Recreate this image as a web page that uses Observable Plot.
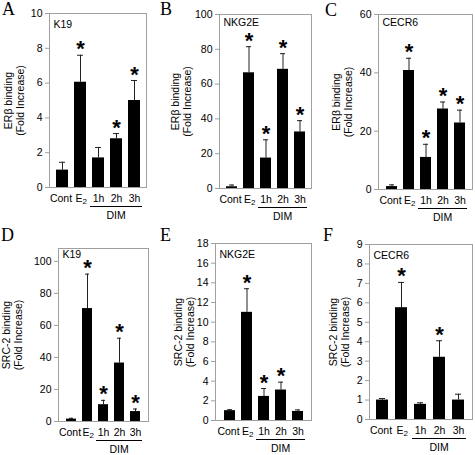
<!DOCTYPE html>
<html><head><meta charset="utf-8">
<script src="https://cdn.jsdelivr.net/npm/d3@7"></script>
<script src="https://cdn.jsdelivr.net/npm/@observablehq/plot@0.6"></script>
<style>
body{margin:0;background:#fff;}
#root{position:relative;width:475px;height:455px;overflow:hidden;font-family:"Liberation Sans",Arial,sans-serif;}
.panel{position:absolute;}
.letter{position:absolute;font-family:"Liberation Serif","Times New Roman",serif;font-size:18px;line-height:18px;color:#000;}
</style></head><body><div id="root"></div>
<script>
// ---- data ----
const categories = ["Cont", "E₂", "1h", "2h", "3h"];
const dimGroup = ["1h", "2h", "3h"];
const dimLabel = "DIM";
const panelLetters = ["A", "B", "C", "D", "E", "F"];
const genes = ["K19", "NKG2E", "CECR6", "K19", "NKG2E", "CECR6"];
const yTitleER = "ERβ binding\n(Fold Increase)";
const yTitleSRC = "SRC-2 binding\n(Fold Increase)";

const meanA = [1.0, 6.05, 1.7, 2.8, 5.0];
const errA  = [1.45, 7.6, 2.3, 3.1, 6.15];
const starA = [false, true, false, true, true];
const ticksA = [0, 2, 4, 6, 8, 10];

const meanB = [1.0, 66.5, 17.5, 68.5, 32.5];
const errB  = [2.0, 81.5, 28, 77.5, 39];
const starB = [false, true, true, true, true];
const ticksB = [0, 20, 40, 60, 80, 100];

const meanC = [1.0, 40.8, 11, 27.6, 22.8];
const errC  = [1.6, 45, 15.5, 30, 27.2];
const starC = [false, true, true, true, true];
const ticksC = [0, 20, 40, 60];

const meanD = [1.5, 70.5, 10.5, 36.5, 6.2];
const errD  = [2.0, 92, 13.2, 52, 7.8];
const starD = [false, true, true, true, true];
const ticksD = [0, 20, 40, 60, 80, 100];

const meanE = [1.0, 11.0, 2.45, 3.1, 0.92];
const errE  = [1.1, 13.4, 3.25, 3.9, 1.08];
const starE = [false, true, true, true, false];
const ticksE = [0, 2, 4, 6, 8, 10, 12, 14, 16, 18];

const meanF = [1.0, 5.75, 0.78, 3.2, 1.0];
const errF  = [1.08, 7.05, 0.86, 4.05, 1.3];
const starF = [false, true, false, true, false];
const ticksF = [0, 1, 2, 3, 4, 5, 6, 7, 8, 9];

const yMaxes = [10, 100, 60, 108, 18, 9];

const means = [meanA, meanB, meanC, meanD, meanE, meanF];
const errs = [errA, errB, errC, errD, errE, errF];
const stars = [starA, starB, starC, starD, starE, starF];
const ticks = [ticksA, ticksB, ticksC, ticksD, ticksE, ticksF];
const titles = [yTitleER, yTitleER, yTitleER, yTitleSRC, yTitleSRC, yTitleSRC];

// ---- layout (positions / sizes only) ----
const layout = [
  {left: 0,   top: 0,   w: 150, h: 225, ml: 49, mr: 4, mt: 13, mb: 38, tdx: -35.5, gdy: 7, lx: 2,   ly: 0},
  {left: 155, top: 0,   w: 160, h: 225, ml: 64, mr: 4, mt: 14, mb: 37, tdx: -38.5, gdy: 4, lx: 160, ly: 0},
  {left: 315, top: 0,   w: 160, h: 225, ml: 63, mr: 3, mt: 14, mb: 36, tdx: -36,   gdy: 4, lx: 325, ly: 1},
  {left: 0,   top: 225, w: 155, h: 230, ml: 58, mr: 7, mt: 23, mb: 34, tdx: -46,   gdy: 2, lx: 1,   ly: 226},
  {left: 155, top: 225, w: 160, h: 230, ml: 60, mr: 4, mt: 18, mb: 35, tdx: -31,   gdy: 7, lx: 160, ly: 226},
  {left: 315, top: 225, w: 160, h: 230, ml: 54, mr: 3, mt: 19, mb: 36, tdx: -30,   gdy: 7, lx: 323, ly: 226}
];

const root = document.getElementById("root");
const FONT = "'Liberation Sans', Arial, sans-serif";
const FS = 10.5;

layout.forEach((L, i) => {
  const data = categories.map((c, j) => ({cat: c, v: means[i][j], e: errs[i][j], star: stars[i][j]}));
  const chart = Plot.plot({
    width: L.w, height: L.h,
    marginLeft: L.ml, marginRight: L.mr, marginTop: L.mt, marginBottom: L.mb,
    style: {fontFamily: FONT, fontSize: FS + "px", color: "#000", background: "transparent", overflow: "visible"},
    x: {domain: categories, padding: 0.36, label: null},
    y: {domain: [0, yMaxes[i]], label: null},
    marks: [
      Plot.frame({stroke: "#a0a0a0"}),
      Plot.axisY({ticks: ticks[i], tickSize: 4, tickPadding: 3, stroke: "#a0a0a0", fill: "#000", fontSize: FS, label: null}),
      Plot.axisX({tickSize: 0, tickPadding: 7, fontSize: FS, fill: "#000", label: null}),
      Plot.ruleX(data, {x: "cat", y1: "v", y2: "e", stroke: "#222"}),
      Plot.tickY(data, {x: "cat", y: "e", stroke: "#222", insetLeft: 3, insetRight: 3}),
      Plot.barY(data, {x: "cat", y: "v", fill: "#000"}),
      Plot.text(data.filter(d => d.star), {x: "cat", y: "e", text: () => "*", fontSize: 22, fontWeight: "bold", dy: -6, fill: "#000"}),
      Plot.text([genes[i]], {frameAnchor: "top-left", text: d => d, dx: 4, dy: L.gdy, fontSize: FS, textAnchor: "start", lineAnchor: "top", fill: "#000"}),
      Plot.text([titles[i]], {frameAnchor: "left", text: d => d, rotate: -90, dx: L.tdx, fontSize: FS, lineHeight: 1.12, textAnchor: "middle", lineAnchor: "middle", fill: "#000"})
    ]
  });
  const svg = d3.select(chart);
  // tick-label spacing tweaks and a real lowered subscript for E₂
  svg.selectAll("text").filter(function () { return this.textContent === "Cont"; }).attr("dx", -1.5);
  svg.selectAll("text").filter(function () { return this.textContent === "E₂"; }).each(function () {
    const t = d3.select(this);
    t.text(null).attr("text-anchor", "start");
    t.append("tspan").attr("dx", -5).text("E");
    t.append("tspan").attr("font-size", 8).attr("dy", "0.3em").text("2");
  });
  // DIM bracket under the 1h-3h group, positioned from the plot's own x scale
  const xs = chart.scale("x");
  const xa = xs.apply(dimGroup[0]) - 2;
  const xb = xs.apply(dimGroup[dimGroup.length - 1]) + xs.bandwidth + 2;
  const yb = L.h - L.mb;
  svg.append("line").attr("x1", xa).attr("x2", xb).attr("y1", yb + 19.5).attr("y2", yb + 19.5)
    .attr("stroke", "#000").attr("stroke-width", 1);
  svg.append("text").attr("x", (xa + xb) / 2).attr("y", yb + 28.5).attr("dy", "0.35em")
    .attr("text-anchor", "middle").attr("font-size", FS).attr("font-family", FONT).attr("fill", "#000").text(dimLabel);

  const div = document.createElement("div");
  div.className = "panel";
  div.style.left = L.left + "px";
  div.style.top = L.top + "px";
  div.appendChild(chart);
  root.appendChild(div);

  const letter = document.createElement("div");
  letter.className = "letter";
  letter.style.left = L.lx + "px";
  letter.style.top = L.ly + "px";
  letter.textContent = panelLetters[i];
  root.appendChild(letter);
});
</script>
</body></html>
